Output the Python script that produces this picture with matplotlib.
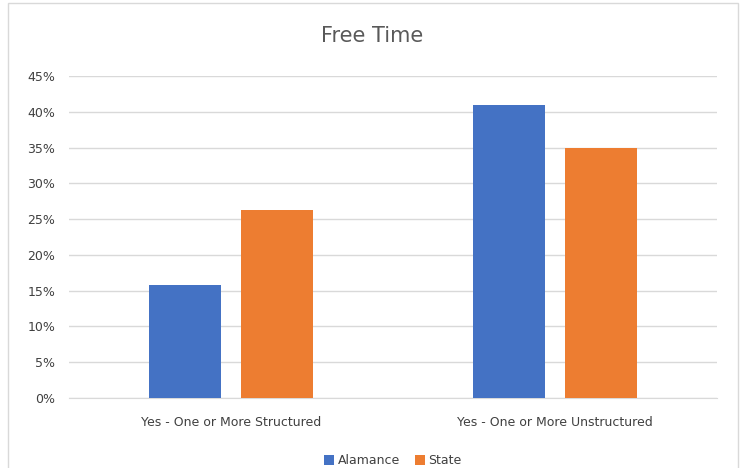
import numpy as np
import matplotlib.pyplot as plt
from matplotlib.patches import Rectangle

# datos
categorias = ["Yes - One or More Structured", "Yes - One or More Unstructured"]
alamance = [15.8, 40.9]
state = [26.3, 35.0]
series = ["Alamance", "State"]
colores = ["#4472C4", "#ED7D31"]

fig = plt.figure(figsize=(7.45, 4.68), dpi=100)
ax = fig.add_axes([0.0926, 0.1496, 0.8694, 0.688])

# borde del grafico
fig.patches.append(Rectangle((8 / 745, -0.01), 730 / 745, 1 - 3 / 468 + 0.01,
                             transform=fig.transFigure, fill=False,
                             edgecolor="#D9D9D9", linewidth=1))

x = np.arange(len(categorias))
ancho = 0.222
ax.bar(x - 0.142, alamance, ancho, color=colores[0], label=series[0], zorder=3)
ax.bar(x + 0.142, state, ancho, color=colores[1], label=series[1], zorder=3)

ax.set_xlim(-0.5, 1.5)
ax.set_ylim(0, 45)
ax.set_yticks(np.arange(0, 46, 5))
ax.set_yticklabels([f"{v}%" for v in range(0, 46, 5)])
ax.set_xticks(x)
ax.set_xticklabels(categorias)
ax.grid(axis="y", color="#D9D9D9", linewidth=1, zorder=0)
for s in ["top", "right", "left"]:
    ax.spines[s].set_visible(False)
ax.spines["bottom"].set_color("#D9D9D9")
ax.tick_params(length=0, colors="#404040", labelsize=9)
ax.tick_params(axis="x", pad=13)
ax.tick_params(axis="y", pad=10)

fig.text(0.5, 1 - 36 / 468, "Free Time", ha="center", va="center",
         fontsize=15, color="#595959")

ax.legend(loc="center", bbox_to_anchor=(0.5, (461 - 398) / -322 * 1.0),
          ncol=2, frameon=False, fontsize=9, labelcolor="#404040",
          handlelength=0.8, handleheight=0.8, handletextpad=0.3,
          columnspacing=1.2)

plt.savefig("out.png", dpi=100)
